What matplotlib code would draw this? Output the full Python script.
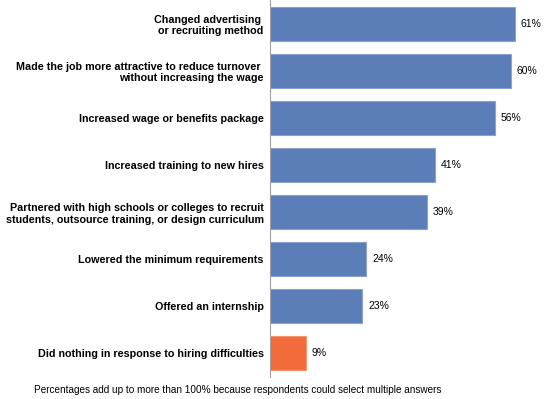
import matplotlib.pyplot as plt

categories = [
    "Changed advertising \nor recruiting method",
    "Made the job more attractive to reduce turnover \nwithout increasing the wage",
    "Increased wage or benefits package",
    "Increased training to new hires",
    "Partnered with high schools or colleges to recruit\nstudents, outsource training, or design curriculum",
    "Lowered the minimum requirements",
    "Offered an internship",
    "Did nothing in response to hiring difficulties",
]
values = [61, 60, 56, 41, 39, 24, 23, 9]
colors = ["#5b7db8"] * 7 + ["#f26b3a"]
edges = ["#8aa2cc"] * 7 + ["#f5956f"]
note = "Percentages add up to more than 100% because respondents could select multiple answers"

plt.rcParams['font.family'] = ['Liberation Sans', 'DejaVu Sans']

fig = plt.figure(figsize=(5.46, 3.99), dpi=100)
ax = fig.add_axes([270 / 546, 22 / 399, 1 - 270 / 546, 377 / 399])

y = list(range(len(values)))
ax.barh(y, values, height=0.72, color=colors, edgecolor=edges, linewidth=0.8)
for yi, v in zip(y, values):
    ax.text(v + 1.4, yi, "%d%%" % v, va='center', ha='left', fontsize=7.5)

ax.set_xlim(0, 68.7)
ax.set_ylim(len(values) - 0.5, -0.5)
ax.set_yticks(y)
ax.set_yticklabels(categories, fontsize=7.75, fontweight='bold')
ax.tick_params(axis='y', length=0, pad=4.5)
ax.set_xticks([])
for s in ['top', 'right', 'bottom']:
    ax.spines[s].set_visible(False)
ax.spines['left'].set_color('#a0a0a0')
ax.spines['left'].set_linewidth(0.8)

fig.text(34 / 546, 1 - 390 / 399, note, fontsize=7.2, va='center', ha='left')

fig.savefig('out.png', dpi=100)
